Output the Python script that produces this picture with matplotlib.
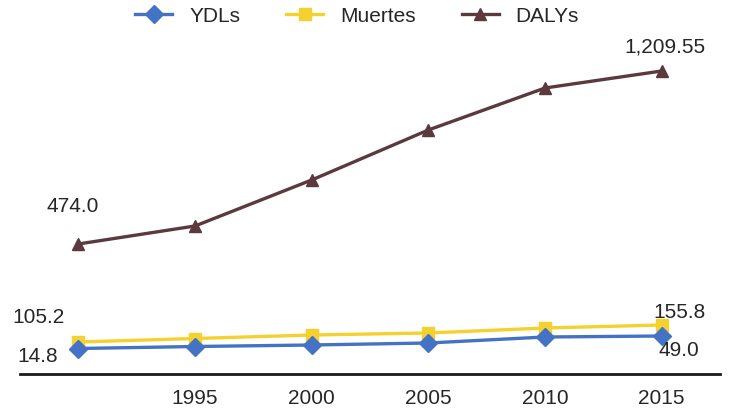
import matplotlib.pyplot as plt

plt.rcParams["font.family"] = ["Liberation Sans", "DejaVu Sans"]

years = ["1990", "1995", "2000", "2005", "2010", "2015"]
tick_labels = ["", "1995", "2000", "2005", "2010", "2015"]

# plotted levels (the chart is not drawn to its labels)
ydls = [102, 110, 116, 124, 148, 152]
muertes = [128, 142, 156, 164, 184, 196]
dalys = [520, 592, 776, 976, 1144, 1212]

# value labels shown at the first and last point of each series
ydls_labels = ["14.8", "49.0"]
muertes_labels = ["105.2", "155.8"]
dalys_labels = ["474.0", "1,209.55"]

c_ydl = "#4472C4"
c_mue = "#F5D130"
c_daly = "#5C393E"
txt = "#262626"

fig = plt.figure(figsize=(7.39, 4.10), dpi=100)
ax = fig.add_axes([20 / 739, 35 / 410, 700 / 739, 335 / 410])

x = list(range(len(years)))
ax.plot(x, ydls, color=c_ydl, lw=2.4, marker="D", ms=9, label="YDLs", zorder=3)
ax.plot(x, muertes, color=c_mue, lw=2.4, marker="s", ms=8, label="Muertes", zorder=2)
ax.plot(x, dalys, color=c_daly, lw=2.4, marker="^", ms=9, label="DALYs", zorder=2)

ax.set_xlim(-0.5, 5.5)
ax.set_ylim(0, 1340)
ax.set_xticks(x)
ax.set_xticklabels(tick_labels, fontsize=15, color=txt)
ax.tick_params(axis="x", length=0, pad=10)
ax.set_yticks([])
for s in ["top", "right", "left"]:
    ax.spines[s].set_visible(False)
ax.spines["bottom"].set_linewidth(2)
ax.spines["bottom"].set_color("#1a1a1a")


def lab(text, xi, yi, dx, dy):
    ax.annotate(text, (xi, yi), xytext=(dx, dy), textcoords="offset pixels",
                ha="center", va="center", fontsize=15, color=txt)


lab(dalys_labels[0], 0, dalys[0], -6, 39)
lab(dalys_labels[1], 5, dalys[5], 3, 25)
lab(muertes_labels[0], 0, muertes[0], -40, 25)
lab(ydls_labels[0], 0, ydls[0], -41, -7)
lab(muertes_labels[1], 5, muertes[5], 18, 13)
lab(ydls_labels[1], 5, ydls[5], 17, -14)

leg = fig.legend(loc="center", bbox_to_anchor=(357 / 739, 1 - 17 / 410), ncol=3,
                 frameon=False, fontsize=15, handlelength=1.8, columnspacing=2.2,
                 handletextpad=0.8)
for t in leg.get_texts():
    t.set_color(txt)

fig.savefig("out.png", dpi=100)
